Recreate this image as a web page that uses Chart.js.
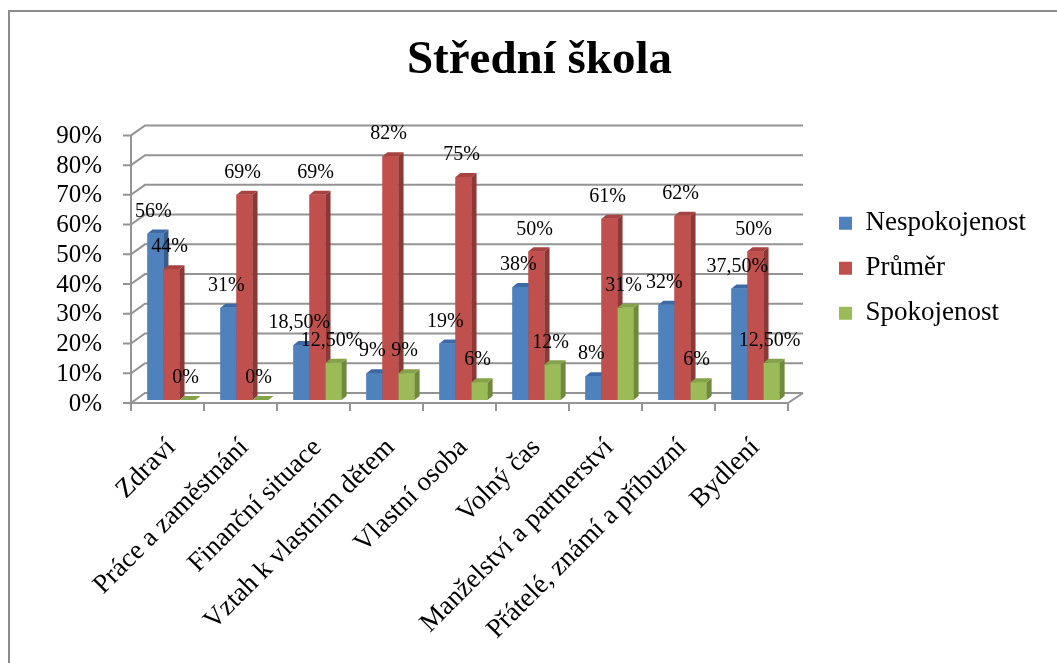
<!DOCTYPE html>
<html>
<head>
<meta charset="utf-8">
<script src="https://cdn.jsdelivr.net/npm/chart.js@4.4.1/dist/chart.umd.min.js"></script>
<style>
  html, body { margin: 0; padding: 0; background: #fff; }
</style>
</head>
<body>
<canvas id="chart" width="1057" height="663"></canvas>
<script>
var categories = [
  "Zdraví",
  "Práce a zaměstnání",
  "Finanční situace",
  "Vztah k vlastním dětem",
  "Vlastní osoba",
  "Volný čas",
  "Manželství a partnerství",
  "Přátelé, známí a příbuzní",
  "Bydlení"
];
var seriesNames = ["Nespokojenost", "Průměr", "Spokojenost"];
var nespokojenost = [56, 31, 18.5, 9, 19, 38, 8, 32, 37.5];
var prumer = [44, 69, 69, 82, 75, 50, 61, 62, 50];
var spokojenost = [0, 0, 12.5, 9, 6, 12, 31, 6, 12.5];
var yTicks = [0, 10, 20, 30, 40, 50, 60, 70, 80, 90];

var FONT = "'Liberation Serif', 'Times New Roman', serif";
var DX = 5, DY = 4;
var faces = [
  { front: "#4f81bd", side: "#385d8a", top: "#3d6aa5" },
  { front: "#c0504d", side: "#8c3836", top: "#a6423f" },
  { front: "#9bbb59", side: "#6f8a3c", top: "#84a249" }
];

// czech style percent: 18,50%
function pct(v) {
  return (Number.isInteger(v) ? String(v) : v.toFixed(2).replace(".", ",")) + "%";
}

function poly(ctx, pts, color) {
  ctx.fillStyle = color;
  ctx.beginPath();
  ctx.moveTo(pts[0][0], pts[0][1]);
  for (var i = 1; i < pts.length; i++) ctx.lineTo(pts[i][0], pts[i][1]);
  ctx.closePath();
  ctx.fill();
}

var excel3d = {
  id: "excel3d",
  afterLayout: function (chart) {
    chart.titleBlock.left += 36;
    chart.titleBlock.right += 36;
    chart.legend.left += 29;
    chart.legend.right += 29;
    chart.legend.top += 2;
    chart.legend.bottom += 2;
  },
  beforeDraw: function (chart) {
    var ctx = chart.ctx;
    ctx.save();
    ctx.fillStyle = "#fff";
    ctx.fillRect(0, 0, chart.width, chart.height);
    ctx.strokeStyle = "#8c8c8c";
    ctx.lineWidth = 2;
    ctx.strokeRect(9, 11, chart.width + 20, chart.height + 20);
    ctx.restore();
  },
  beforeDatasetsDraw: function (chart) {
    var ctx = chart.ctx, ys = chart.scales.y, a = chart.chartArea;
    var frontX = a.left - 4, backX = a.left + 10, backR = a.right + 11;
    var p0 = ys.getPixelForValue(0);
    var pTop = ys.getPixelForValue(yTicks[yTicks.length - 1]);
    ctx.save();
    ctx.strokeStyle = "#949494";
    ctx.lineWidth = 2;
    yTicks.forEach(function (v) {
      var p = ys.getPixelForValue(v);
      ctx.beginPath();
      ctx.moveTo(frontX - 8, p + 3);
      ctx.lineTo(frontX, p + 3);
      ctx.lineTo(backX, p - 7);
      ctx.lineTo(backR, p - 7);
      ctx.stroke();
    });
    ctx.beginPath();
    ctx.moveTo(frontX, pTop + 3);
    ctx.lineTo(frontX, p0 + 3);
    ctx.lineTo(a.right - 4, p0 + 3);
    ctx.lineTo(backR, p0 - 7);
    ctx.stroke();
    var step = a.width / categories.length;
    for (var i = 0; i <= categories.length; i++) {
      var bx = a.left + step * i - 4;
      ctx.beginPath();
      ctx.moveTo(bx, p0 + 3);
      ctx.lineTo(bx, p0 + 11);
      ctx.stroke();
    }
    ctx.restore();
  },
  afterDatasetsDraw: function (chart) {
    var ctx = chart.ctx;
    var n = chart.data.datasets.length;
    ctx.save();
    for (var i = 0; i < categories.length; i++) {
      for (var d = 0; d < n; d++) {
        var p = chart.getDatasetMeta(d).data[i].getProps(["x", "y", "base", "width"], true);
        var l = p.x - p.width / 2, r = p.x + p.width / 2;
        var t = Math.min(p.y, p.base), b = p.base;
        ctx.fillStyle = faces[d].front;
        ctx.fillRect(l, t, r - l, b - t);
        poly(ctx, [[r, t], [r + DX, t - DY], [r + DX, b - DY], [r, b]], faces[d].side);
        poly(ctx, [[l, t], [l + DX, t - DY], [r + DX, t - DY], [r, t]], faces[d].top);
      }
    }
    // data labels
    ctx.fillStyle = "#000";
    ctx.font = "20px " + FONT;
    ctx.textAlign = "center";
    ctx.textBaseline = "middle";
    for (var d2 = 0; d2 < n; d2++) {
      var meta = chart.getDatasetMeta(d2);
      meta.data.forEach(function (bar, j) {
        var val = chart.data.datasets[d2].data[j];
        ctx.fillText(pct(val), bar.x - 2, bar.y - 22);
      });
    }
    ctx.restore();
  }
};

var ctx = document.getElementById("chart").getContext("2d");
new Chart(ctx, {
  type: "bar",
  data: {
    labels: categories,
    datasets: [
      { label: seriesNames[0], data: nespokojenost, backgroundColor: faces[0].front, borderWidth: 0 },
      { label: seriesNames[1], data: prumer, backgroundColor: faces[1].front, borderWidth: 0 },
      { label: seriesNames[2], data: spokojenost, backgroundColor: faces[2].front, borderWidth: 0 }
    ]
  },
  options: {
    responsive: false,
    animation: false,
    layout: { padding: { left: 0, right: 50, top: 0, bottom: 0 } },
    datasets: { bar: { categoryPercentage: 0.66, barPercentage: 1 } },
    scales: {
      x: {
        grid: { display: false, drawTicks: false },
        border: { display: false },
        ticks: {
          font: { family: FONT, size: 27 },
          color: "#000",
          minRotation: 45,
          maxRotation: 45,
          autoSkip: false,
          padding: 32
        },
        afterFit: function (s) { s.height = 263; }
      },
      y: {
        min: 0,
        max: 90,
        grid: { display: false, drawTicks: false },
        border: { display: false },
        afterBuildTicks: function (s) {
          s.ticks = yTicks.map(function (v) { return { value: v }; });
        },
        ticks: {
          font: { family: FONT, size: 25 },
          color: "#000",
          autoSkip: false,
          padding: 33,
          labelOffset: 4,
          callback: function (v) { return v + "%"; }
        },
        afterFit: function (s) { s.width = 135; }
      }
    },
    plugins: {
      title: {
        display: true,
        text: "Střední škola",
        color: "#000",
        font: { family: FONT, size: 47, weight: "bold" },
        padding: { top: 33, bottom: 43 }
      },
      legend: {
        position: "right",
        fullSize: false,
        labels: {
          color: "#000",
          font: { family: FONT, size: 27 },
          boxWidth: 13,
          boxHeight: 13,
          padding: 18
        }
      },
      tooltip: { enabled: false }
    }
  },
  plugins: [excel3d]
});
</script>
</body>
</html>
